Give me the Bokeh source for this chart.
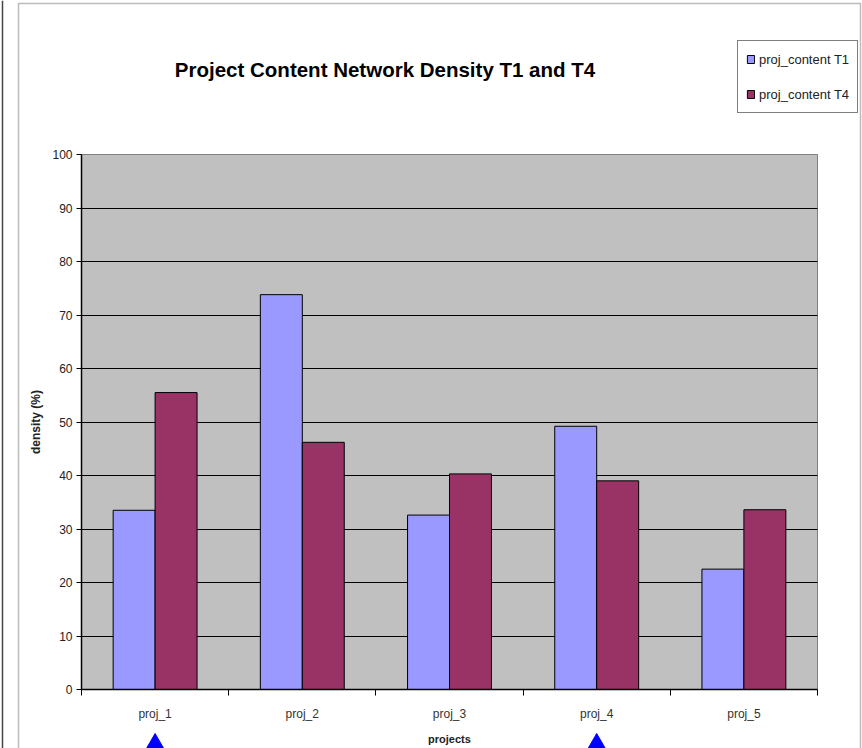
from bokeh.plotting import figure
from bokeh.models import (ColumnDataSource, Range1d, FixedTicker, Label, BoxAnnotation,
                          Legend, LegendItem, Span)
from bokeh.transform import dodge
from bokeh.embed import file_html
from bokeh.resources import INLINE

# ---- data ----
categories = ["proj_1", "proj_2", "proj_3", "proj_4", "proj_5"]
t1_values = [33.5, 73.8, 32.6, 49.2, 22.5]
t4_values = [55.5, 46.2, 40.3, 39.0, 33.6]
highlighted = ["proj_1", "proj_4"]
y_ticks = [0, 10, 20, 30, 40, 50, 60, 70, 80, 90, 100]
series_labels = ["proj_content T1", "proj_content T4"]
title_text = "Project Content Network Density T1 and T4"

FONT = "Liberation Sans"
W, H = 862, 748
# plot area in pixels: x 81..817, y 154..689
PX_X = 147.2   # px per category
PX_Y = 5.35    # px per percent
X0, Y0 = 81, 689
n = len(categories)

centers = [i + 0.5 for i in range(n)]
src = ColumnDataSource(dict(xc=centers, t1=t1_values, t4=t4_values, cat=categories))

p = figure(width=W, height=H,
           x_range=Range1d(-X0 / PX_X, (W - X0) / PX_X),
           y_range=Range1d((Y0 - H) / PX_Y, Y0 / PX_Y),
           output_backend="svg", toolbar_location=None, min_border=0)
p.background_fill_color = "white"
p.border_fill_color = "white"
p.outline_line_color = None

# gray plot area
p.quad(left=[0], right=[n], bottom=[y_ticks[0]], top=[y_ticks[-1]],
       fill_color="#c0c0c0", line_color="#808080", line_width=1, level="image")

# grid
p.xgrid.visible = False
p.ygrid.ticker = FixedTicker(ticks=[t for t in y_ticks if y_ticks[0] < t < y_ticks[-1]])
p.ygrid.grid_line_color = "black"
p.ygrid.grid_line_width = 1
p.ygrid.cross_bounds = (0, n)

bw = 0.285
r1 = p.vbar(x=dodge("xc", -bw / 2, range=p.x_range), top="t1", width=bw, source=src,
            fill_color="#9999ff", line_color="black", line_width=1)
r4 = p.vbar(x=dodge("xc", bw / 2, range=p.x_range), top="t4", width=bw, source=src,
            fill_color="#993366", line_color="black", line_width=1)

# y axis
ya = p.yaxis[0]
ya.fixed_location = 0
ya.bounds = (y_ticks[0], y_ticks[-1])
ya.ticker = FixedTicker(ticks=y_ticks, minor_ticks=[])
ya.axis_line_color = "black"
ya.axis_line_width = 1.5
ya.major_tick_out = 5
ya.major_tick_in = 0
ya.major_tick_line_color = "black"
ya.minor_tick_line_color = None
ya.major_label_text_font = FONT
ya.major_label_text_font_size = "12px"
ya.major_label_text_color = "#222222"
ya.major_label_standoff = 4
ya.axis_label = "density (%)"
ya.axis_label_text_font = FONT
ya.axis_label_text_font_size = "12px"
ya.axis_label_text_font_style = "bold"
ya.axis_label_text_color = "#222222"
ya.axis_label_standoff = 6

# x axis
xa = p.xaxis[0]
xa.fixed_location = 0
xa.bounds = (0, n)
xa.ticker = FixedTicker(ticks=centers, minor_ticks=list(range(n + 1)))
xa.major_label_overrides = {c: name for c, name in zip(centers, categories)}
xa.axis_line_color = "black"
xa.axis_line_width = 1.5
xa.major_tick_out = 0
xa.major_tick_in = 0
xa.minor_tick_out = 6
xa.minor_tick_in = 0
xa.minor_tick_line_color = "black"
xa.major_label_text_font = FONT
xa.major_label_text_font_size = "12px"
xa.major_label_text_color = "#333333"
xa.major_label_standoff = 11
xa.axis_label = "projects"
xa.axis_label_text_font = FONT
xa.axis_label_text_font_size = "11px"
xa.axis_label_text_font_style = "bold"
xa.axis_label_text_color = "#222222"
xa.axis_label_standoff = 9

# title
p.add_layout(Label(x=(384.5 - X0) / PX_X, y=(Y0 - 69) / PX_Y, text=title_text, text_font=FONT,
                   text_font_size="20.5px", text_font_style="bold",
                   text_align="center", text_baseline="middle", text_color="black"))

# legend
legend = Legend(items=[LegendItem(label=series_labels[0], renderers=[r1]),
                       LegendItem(label=series_labels[1], renderers=[r4])],
                location=(737, H - 113))
legend.border_line_color = "black"
legend.border_line_width = 1
legend.background_fill_color = "white"
legend.background_fill_alpha = 1
legend.padding = 8
legend.spacing = 15
legend.margin = 0
legend.label_height = 20
legend.glyph_height = 10
legend.glyph_width = 9
legend.label_standoff = 4
legend.label_text_font = FONT
legend.label_text_font_size = "13px"
legend.label_text_color = "#222222"
p.add_layout(legend)

# highlight markers below chosen projects
hx = [categories.index(c) + 0.5 for c in highlighted]
p.scatter(x=hx, y=[(Y0 - 743.4) / PX_Y] * len(hx), marker="triangle", size=18,
          fill_color="#0000ff", line_color="#0000ff")

# page frame border
p.add_layout(BoxAnnotation(left=(18 - X0) / PX_X, right=(860 - X0) / PX_X,
                           top=(Y0 - 3) / PX_Y, bottom=(Y0 - H - 20) / PX_Y,
                           fill_color=None, line_color="#222222", line_width=1.5))
p.add_layout(Span(location=(2 - X0) / PX_X, dimension="height",
                  line_color="#444444", line_width=1.5))

open("out.html", "w").write(file_html(p, INLINE))
